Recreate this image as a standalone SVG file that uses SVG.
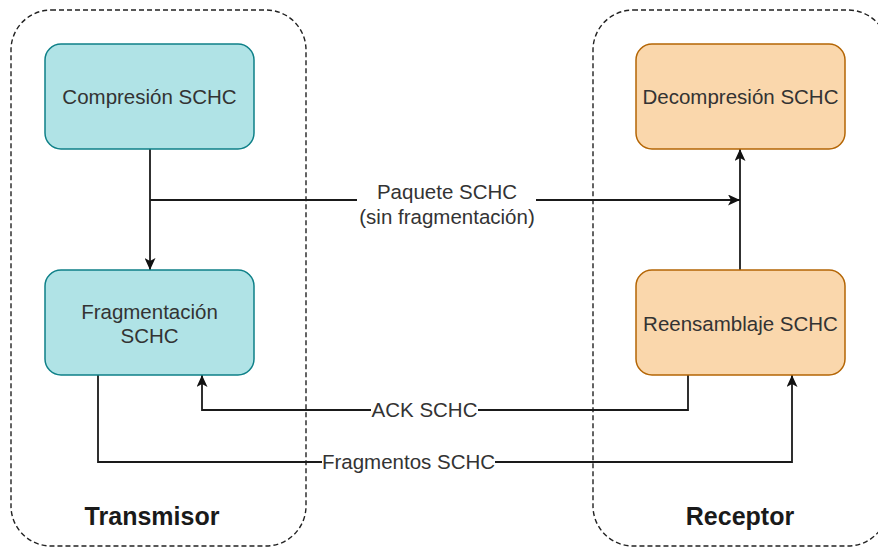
<svg xmlns="http://www.w3.org/2000/svg" width="878" height="548" viewBox="0 0 878 548">
  <defs>
    <marker id="arrow" viewBox="0 0 12 11" refX="12" refY="5.5" markerWidth="12" markerHeight="11" markerUnits="userSpaceOnUse" orient="auto">
      <path d="M0,0 L12,5.5 L0,11 L3,5.5 Z" fill="#111"/>
    </marker>
    <style>
      .group { fill: none; stroke: #222; stroke-width: 1.4; stroke-dasharray: 5 3; }
      .tx { fill: #b0e3e6; stroke: #0e8088; stroke-width: 1.5; }
      .rx { fill: #fad7ac; stroke: #b46504; stroke-width: 1.5; }
      .lbl { font-family: "Liberation Sans", Arial, sans-serif; font-size: 20.5px; fill: #333; text-anchor: middle; }
      .title { font-family: "Liberation Sans", Arial, sans-serif; font-size: 25px; font-weight: bold; fill: #1a1a1a; text-anchor: middle; }
      .edge { fill: none; stroke: #1a1a1a; stroke-width: 1.8; }
      .bg { fill: #fff; }
    </style>
  </defs>

  <!-- dashed containers -->
  <g id="transmisor">
    <rect class="group" x="11" y="10" width="295" height="536" rx="40" ry="40"/>
    <text class="title" x="152" y="525">Transmisor</text>
  </g>
  <g id="receptor">
    <rect class="group" x="593" y="10" width="295" height="536" rx="40" ry="40"/>
    <text class="title" x="740" y="525">Receptor</text>
  </g>

  <!-- connectors -->
  <g id="connectors">
    <path class="edge" d="M150,149 V270" marker-end="url(#arrow)"/>
    <path class="edge" d="M150,200 H740" marker-end="url(#arrow)"/>
    <path class="edge" d="M740,270 V149" marker-end="url(#arrow)"/>
    <path class="edge" d="M688,375 V410 H202 V375" marker-end="url(#arrow)"/>
    <path class="edge" d="M98,375 V462 H792 V375" marker-end="url(#arrow)"/>

    <rect class="bg" x="357" y="180" width="179" height="46"/>
    <text class="lbl" x="447" y="199">Paquete SCHC</text>
    <text class="lbl" x="447" y="224">(sin fragmentación)</text>

    <rect class="bg" x="371" y="399" width="107" height="22"/>
    <text class="lbl" x="424.5" y="417">ACK SCHC</text>

    <rect class="bg" x="322" y="451" width="173" height="22"/>
    <text class="lbl" x="408.5" y="469">Fragmentos SCHC</text>
  </g>

  <!-- nodes -->
  <g id="compresion">
    <rect class="tx" x="45" y="44" width="209" height="105" rx="16" ry="16"/>
    <text class="lbl" x="149.5" y="104">Compresión SCHC</text>
  </g>
  <g id="fragmentacion">
    <rect class="tx" x="45" y="270" width="209" height="105" rx="16" ry="16"/>
    <text class="lbl" x="149.5" y="319">Fragmentación</text>
    <text class="lbl" x="149.5" y="343">SCHC</text>
  </g>
  <g id="decompresion">
    <rect class="rx" x="636" y="44" width="209" height="105" rx="16" ry="16"/>
    <text class="lbl" x="740.5" y="104">Decompresión SCHC</text>
  </g>
  <g id="reensamblaje">
    <rect class="rx" x="636" y="270" width="209" height="105" rx="16" ry="16"/>
    <text class="lbl" x="740.5" y="331">Reensamblaje SCHC</text>
  </g>
</svg>
